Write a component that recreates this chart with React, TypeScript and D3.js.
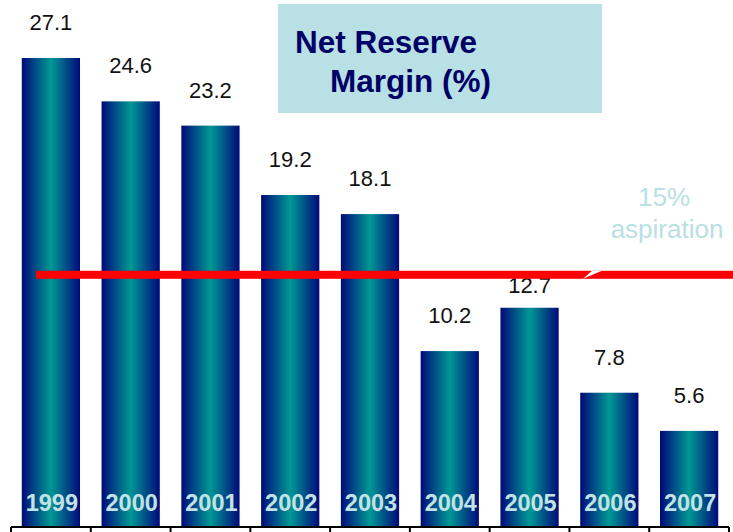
import React from "react";
import * as d3 from "d3";

const years = ["1999", "2000", "2001", "2002", "2003", "2004", "2005", "2006", "2007"];
const margins = [27.1, 24.6, 23.2, 19.2, 18.1, 10.2, 12.7, 7.8, 5.6];
const aspirationLabel = ["15%", "aspiration"];
const aspirationLevel = 14.6;
const titleLines = ["Net Reserve", "Margin (%)"];

const W = 733;
const H = 532;
const FONT = "'Liberation Sans', Arial, sans-serif";

export default function App() {
  const x = d3.scaleBand<string>().domain(years).range([11, 729]).paddingInner(0.27).paddingOuter(0.135);
  const y = d3.scaleLinear().domain([0, 27.1]).range([528, 58]);
  const step = x.step();
  const tickXs = d3.range(years.length + 1).map((i) => 11 + i * step);
  const lineY = y(aspirationLevel);
  const lineHalf = 4;
  const labelFont = 22;
  const capH = labelFont * 0.716;

  const labelY = (v: number) => {
    let base = y(v) - 28;
    // avoid collision with the aspiration line: push below it
    if (base > lineY - lineHalf && base - capH < lineY + lineHalf) {
      base = lineY + lineHalf + capH - 2;
    }
    return base;
  };

  return (
    <svg width={W} height={H} style={{ position: "absolute", left: 0, top: 0, background: "#fff" }} fontFamily={FONT}>
      <defs>
        <linearGradient id="barGrad" x1="0" x2="1" y1="0" y2="0">
          <stop offset="0%" stopColor="#000a7a" />
          <stop offset="50%" stopColor="#009894" />
          <stop offset="100%" stopColor="#000a7a" />
        </linearGradient>
      </defs>

      {/* title box */}
      <rect x={278} y={4} width={324} height={109} fill="#b9e0e4" />
      <text x={295} y={53} fontSize={31.5} fontWeight="bold" fill="#000066">{titleLines[0]}</text>
      <text x={330} y={92} fontSize={31.5} fontWeight="bold" fill="#000066">{titleLines[1]}</text>

      {/* bars */}
      {years.map((yr, i) => (
        <rect key={yr} x={x(yr)} y={y(margins[i])} width={x.bandwidth()} height={y(0) - y(margins[i])} fill="url(#barGrad)" />
      ))}

      {/* value labels */}
      {years.map((yr, i) => (
        <text key={"v" + yr} x={(x(yr) as number) + x.bandwidth() / 2} y={labelY(margins[i])} fontSize={labelFont} textAnchor="middle" fill="#111">
          {margins[i].toFixed(1)}
        </text>
      ))}

      {/* aspiration line */}
      <rect x={36} y={lineY - lineHalf} width={W - 36} height={lineHalf * 2} fill="#ff0000" />
      <polygon points={`${583},${lineY + lineHalf} ${602},${lineY - lineHalf} ${592},${lineY - lineHalf}`} fill="#fff" />
      <text x={664} y={206} fontSize={26} textAnchor="middle" fill="#b9e0e4">{aspirationLabel[0]}</text>
      <text x={667} y={238} fontSize={26} textAnchor="middle" fill="#b9e0e4">{aspirationLabel[1]}</text>

      {/* year labels */}
      {years.map((yr) => (
        <text key={"y" + yr} x={(x(yr) as number) + x.bandwidth() / 2 + 1} y={511} fontSize={23.5} fontWeight="bold" textAnchor="middle" fill="#c2e2e6">
          {yr}
        </text>
      ))}

      {/* axis */}
      <line x1={tickXs[0]} x2={tickXs[tickXs.length - 1]} y1={527} y2={527} stroke="#000" strokeWidth={2} />
      {tickXs.map((tx, i) => (
        <line key={"t" + i} x1={tx} x2={tx} y1={527} y2={H} stroke="#000" strokeWidth={2} />
      ))}
    </svg>
  );
}
